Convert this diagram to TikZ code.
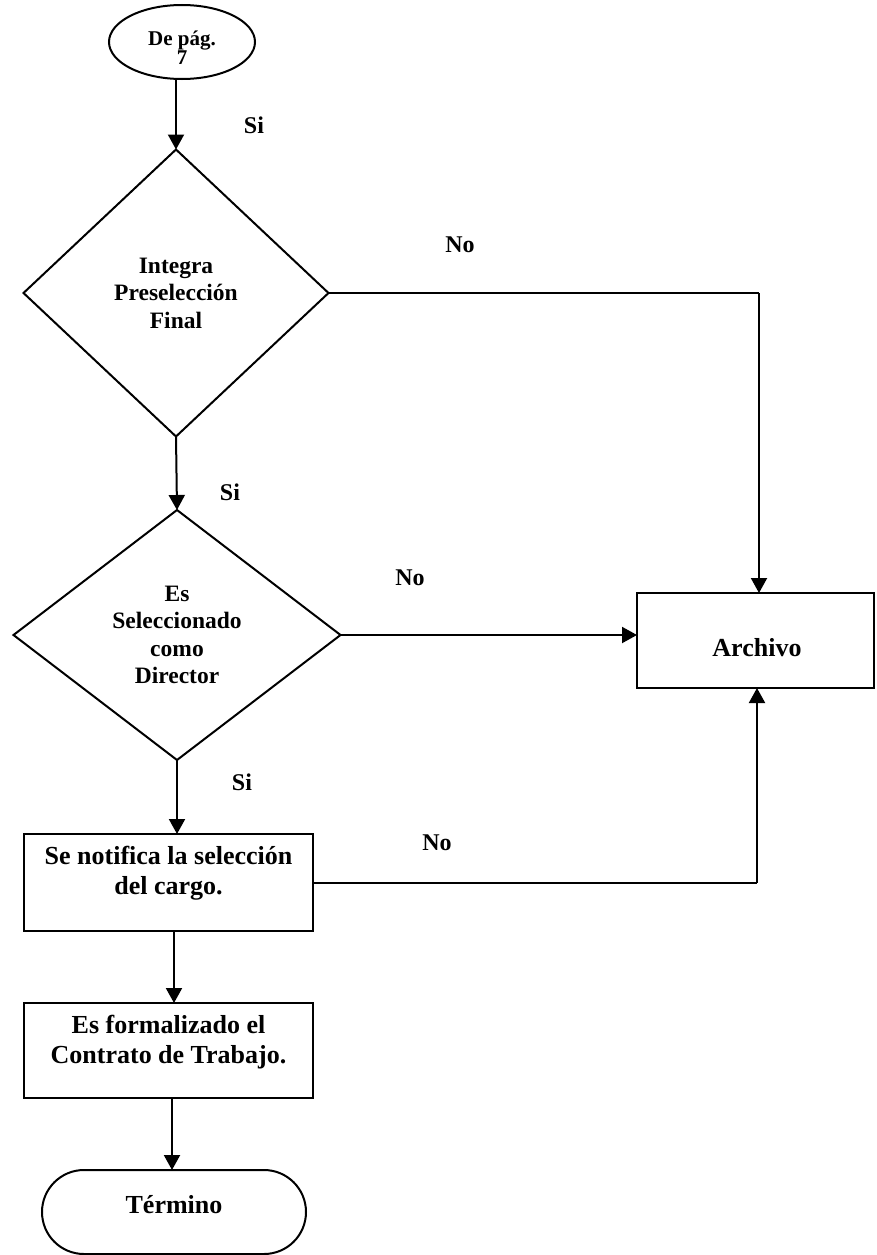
\documentclass[tikz,border=0pt]{standalone}
\usepackage{fontspec}
\setmainfont{Liberation Serif}
\usetikzlibrary{shapes.geometric,arrows.meta}
\begin{document}
\begin{tikzpicture}[x=1pt,y=-1pt,
  every node/.style={font=\bfseries, outer sep=0pt, inner sep=0pt},
  ln/.style={line width=2pt},
  arr/.style={ln,-{Triangle[length=15pt,width=16pt]}},
  dec/.style={draw, line width=2pt, diamond, align=center},
  boxs/.style={draw, line width=2pt, rectangle},
  lbl/.style={font=\fontsize{24}{28}\selectfont\bfseries},
  btxt/.style={align=center, font=\fontsize{26}{30}\selectfont\bfseries},
  dtxt/.style={align=center, font=\fontsize{23.5}{27.5}\selectfont\bfseries}]
\useasboundingbox (0,0) rectangle (876,1255);

\node[draw, ln, ellipse, minimum width=146pt, minimum height=74pt] (start) at (182,42) {};
\node[align=center, font=\fontsize{21}{19}\selectfont\bfseries] (startt) at (182,48) {De pág.\\7};

\node[dec, minimum width=305pt, minimum height=287pt, dtxt] (d1) at (176,293)
  {Integra\\Preselección\\Final};
\node[dec, minimum width=327pt, minimum height=250pt, dtxt] (d2) at (177,635)
  {Es\\Seleccionado\\como\\Director};

\node[boxs, minimum width=237pt, minimum height=95pt] (arch) at (755.5,640.5) {};
\node[btxt] (archt) at (757,648) {Archivo};

\node[boxs, minimum width=289pt, minimum height=97pt] (b1) at (168.5,882.5) {};
\node[btxt] (b1t) at (168.5,873) {Se notifica la selección\\del cargo.};

\node[boxs, minimum width=289pt, minimum height=95pt] (b2) at (168.5,1050.5) {};
\node[btxt] (b2t) at (168.5,1042) {Es formalizado el\\Contrato de Trabajo.};

\node[draw, ln, rectangle, rounded corners=42pt, minimum width=264pt, minimum height=84pt] (fin) at (174,1212) {};
\node[btxt] (fint) at (174,1205) {Término};

\coordinate (c1) at (759,293);
\coordinate (c2) at (757,884);

% connectors
\draw[arr] (start.south -| d1.north) -- (d1.north);
\draw[arr] (d1.south) -- (d2.north);
\draw[arr] (d2.south) -- (d2.south |- b1.north);
\draw[arr] (b1.south -| 174,0) -- (b2.north -| 174,0);
\draw[arr] (b2.south -| 172,0) -- (fin.north -| 172,0);

\draw[ln] (d1.east) -- (c1);
\draw[arr] (c1) -- (c1 |- arch.north);
\draw[arr] (d2.east) -- (d2.east -| arch.west);
\draw[ln] (b1.east) -- (b1.east -| c2);
\draw[arr] (b1.east -| c2) -- (c2 |- arch.south);

% labels
\node[lbl] (s1) at (254,125) {Si};
\node[lbl] (s2) at (230,492) {Si};
\node[lbl] (s3) at (242,782) {Si};
\node[lbl] (n1) at (460,245) {No};
\node[lbl] (n2) at (410,578) {No};
\node[lbl] (n3) at (437,843) {No};
\end{tikzpicture}
\end{document}
